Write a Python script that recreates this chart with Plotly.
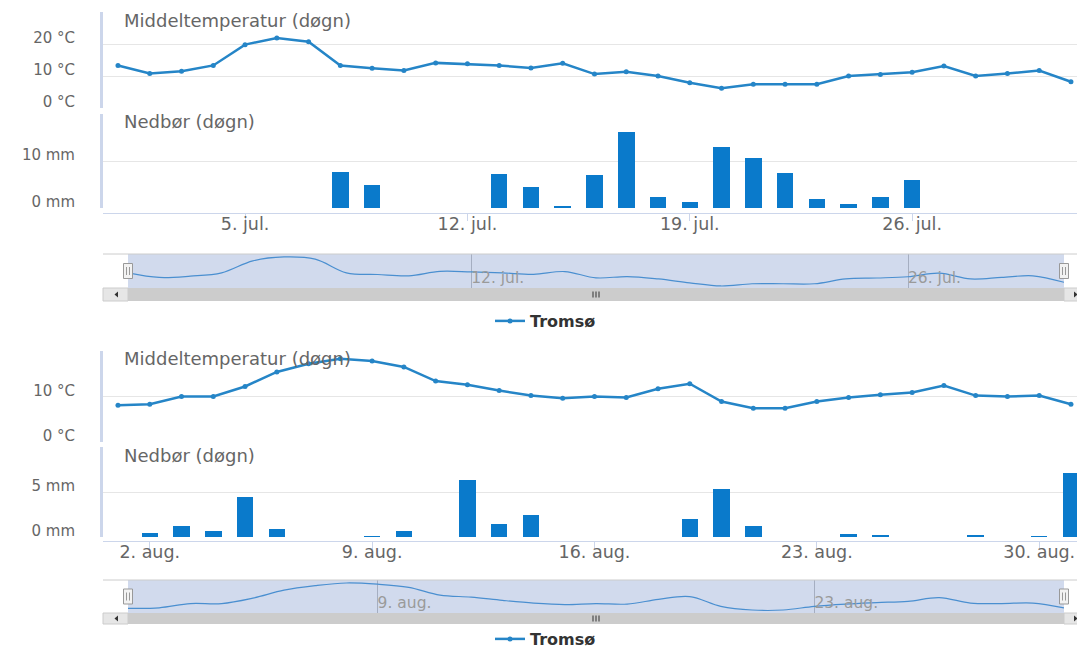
import plotly.graph_objects as go

W, H = 1077, 648
FONT = "DejaVu Sans"

STATION = "Tromsø"
DAYS = list(range(1, 32))

# Daily mean temperature (°C)
JUL_TEMP = [13.3, 10.8, 11.5, 13.3, 19.8, 21.9, 20.7, 13.3, 12.4, 11.7, 14.1,
            13.8, 13.3, 12.5, 14.0, 10.6, 11.3, 10.0, 7.9, 6.2, 7.4, 7.4, 7.4,
            10.0, 10.5, 11.2, 13.1, 10.0, 10.8, 11.7, 8.2]
AUG_TEMP = [8.1, 8.3, 10.0, 10.0, 12.2, 15.4, 17.2, 18.3, 17.8, 16.5, 13.4,
            12.6, 11.3, 10.2, 9.6, 10.0, 9.8, 11.7, 12.8, 8.9, 7.4, 7.4, 8.9,
            9.8, 10.4, 10.9, 12.4, 10.2, 10.0, 10.2, 8.3]

# Daily precipitation (mm), only days with precipitation
JUL_RAIN_DAYS = [8, 9, 13, 14, 15, 16, 17, 18, 19, 20, 21, 22, 23, 24, 25, 26]
JUL_RAIN = [7.7, 4.9, 7.3, 4.4, 0.3, 7.0, 16.2, 2.3, 1.3, 13.0, 10.6, 7.4,
            2.0, 0.85, 2.3, 5.9]
AUG_RAIN_DAYS = [2, 3, 4, 5, 6, 9, 10, 12, 13, 14, 19, 20, 21, 24, 25, 28, 30, 31]
AUG_RAIN = [0.45, 1.25, 0.65, 4.5, 0.9, 0.06, 0.7, 6.35, 1.45, 2.5, 2.0, 5.3,
            1.2, 0.35, 0.15, 0.15, 0.06, 7.1]

# Axis ticks and labels
JUL_TICK_DAYS = [5, 12, 19, 26]
JUL_TICK_TEXT = ["5. jul.", "12. jul.", "19. jul.", "26. jul."]
AUG_TICK_DAYS = [2, 9, 16, 23, 30]
AUG_TICK_TEXT = ["2. aug.", "9. aug.", "16. aug.", "23. aug.", "30. aug."]
JUL_NAV_TICK_DAYS = [12, 26]
JUL_NAV_TICK_TEXT = ["12. jul.", "26. jul."]
AUG_NAV_TICK_DAYS = [9, 23]
AUG_NAV_TICK_TEXT = ["9. aug.", "23. aug."]
JUL_TEMP_TICKS = [0, 10, 20, 30]
JUL_TEMP_TEXT = ["0 °C", "10 °C", "20 °C", ""]
AUG_TEMP_TICKS = [0, 10, 20]
AUG_TEMP_TEXT = ["0 °C", "10 °C", ""]
JUL_RAIN_TICKS = [0, 10, 20]
JUL_RAIN_TEXT = ["0 mm", "10 mm", ""]
AUG_RAIN_TICKS = [0, 5, 10]
AUG_RAIN_TEXT = ["0 mm", "5 mm", ""]

TEMP_TITLE = "Middeltemperatur (døgn)"
RAIN_TITLE = "Nedbør (døgn)"

LINE_COLOR = "#2585c7"
BAR_COLOR = "#0a7acb"
NAV_COLOR = "#4a8fd0"
GRID = "#e6e6e6"
AXIS_LINE = "#ccd6eb"
LABEL = "#666666"

X_RANGE = [0.528, 31.19]
NAV_LEFT, NAV_RIGHT = 128, 1064


def px(x):
    return x / W


def py(y):
    return 1 - y / H


def sfx(n):
    return "" if n == 1 else str(n)


charts = [
    dict(temp=JUL_TEMP, rain_days=JUL_RAIN_DAYS, rain=JUL_RAIN,
         ticks=JUL_TICK_DAYS, tick_text=JUL_TICK_TEXT,
         nav_ticks=JUL_NAV_TICK_DAYS, nav_text=JUL_NAV_TICK_TEXT,
         temp_ticks=JUL_TEMP_TICKS, temp_text=JUL_TEMP_TEXT,
         rain_ticks=JUL_RAIN_TICKS, rain_text=JUL_RAIN_TEXT,
         temp_top=12, temp_bot=108, rain_top=114, rain_bot=208, xline=213,
         nav_top=254, nav_bot=288, sb_top=288, sb_bot=301, legend_y=321,
         temp_title_y=20, rain_title_y=121, nav_range=[5.1, 23.5]),
    dict(temp=AUG_TEMP, rain_days=AUG_RAIN_DAYS, rain=AUG_RAIN,
         ticks=AUG_TICK_DAYS, tick_text=AUG_TICK_TEXT,
         nav_ticks=AUG_NAV_TICK_DAYS, nav_text=AUG_NAV_TICK_TEXT,
         temp_ticks=AUG_TEMP_TICKS, temp_text=AUG_TEMP_TEXT,
         rain_ticks=AUG_RAIN_TICKS, rain_text=AUG_RAIN_TEXT,
         temp_top=351, temp_bot=442, rain_top=447, rain_bot=537, xline=541,
         nav_top=580, nav_bot=613, sb_top=613, sb_bot=624, legend_y=639,
         temp_title_y=358, rain_title_y=455, nav_range=[6.2, 19.5]),
]

fig = go.Figure()
layout = {}
shapes = []
annotations = []

for k, c in enumerate(charts):
    nt, nr, nn = 3 * k + 1, 3 * k + 2, 3 * k + 3
    legend_name = "legend" if k == 0 else "legend2"

    # mean temperature line
    fig.add_trace(go.Scatter(
        x=DAYS, y=c["temp"], mode="lines+markers", name=STATION,
        line=dict(color=LINE_COLOR, width=2.5),
        marker=dict(color=LINE_COLOR, size=5),
        xaxis="x" + sfx(nt), yaxis="y" + sfx(nt),
        legend=legend_name, showlegend=True, cliponaxis=False))

    # precipitation columns
    fig.add_trace(go.Bar(
        x=c["rain_days"], y=c["rain"], width=0.52, name=STATION,
        marker=dict(color=BAR_COLOR, line=dict(width=0)),
        xaxis="x" + sfx(nr), yaxis="y" + sfx(nr), showlegend=False))

    # navigator series
    fig.add_trace(go.Scatter(
        x=DAYS, y=c["temp"], mode="lines", name=STATION,
        line=dict(color=NAV_COLOR, width=1.2, shape="spline", smoothing=1),
        xaxis="x" + sfx(nn), yaxis="y" + sfx(nn), showlegend=False,
        hoverinfo="skip"))

    ytick_common = dict(
        gridcolor=GRID, gridwidth=1, zeroline=False, showline=True,
        linecolor=AXIS_LINE, linewidth=3, ticks="",
        tickfont=dict(family=FONT, size=15, color=LABEL),
        ticklabelshift=-6, ticklabelstandoff=22, fixedrange=True)

    layout["xaxis" + sfx(nt)] = dict(
        domain=[px(103), 1], range=X_RANGE, anchor="y" + sfx(nt),
        showticklabels=False, showgrid=False, zeroline=False, fixedrange=True)
    layout["yaxis" + sfx(nt)] = dict(
        domain=[py(c["temp_bot"]), py(c["temp_top"])],
        range=[0, c["temp_ticks"][-1]], anchor="x" + sfx(nt),
        tickvals=c["temp_ticks"], ticktext=c["temp_text"], **ytick_common)

    layout["xaxis" + sfx(nr)] = dict(
        domain=[px(103), 1], range=X_RANGE, anchor="free",
        position=py(c["xline"]), tickvals=c["ticks"], ticktext=c["tick_text"],
        ticks="outside", ticklen=7, tickcolor=AXIS_LINE, showline=True,
        linecolor=AXIS_LINE, linewidth=1, showgrid=False, zeroline=False,
        tickfont=dict(family=FONT, size=17.5, color=LABEL),
        ticklabelstandoff=-12, fixedrange=True)
    layout["yaxis" + sfx(nr)] = dict(
        domain=[py(c["rain_bot"]), py(c["rain_top"])],
        range=[0, c["rain_ticks"][-1]], anchor="x" + sfx(nr),
        tickvals=c["rain_ticks"], ticktext=c["rain_text"], **ytick_common)

    layout["xaxis" + sfx(nn)] = dict(
        domain=[px(NAV_LEFT), px(NAV_RIGHT)], range=[1, 31],
        anchor="y" + sfx(nn),
        tickvals=c["nav_ticks"], ticktext=c["nav_text"], showgrid=True,
        gridcolor="rgba(110,120,140,0.45)", gridwidth=1, ticks="",
        ticklabelposition="inside right", ticklabelstandoff=-4,
        showline=False, zeroline=False,
        tickfont=dict(family=FONT, size=15.5, color="#9a9a9a"), fixedrange=True)
    layout["yaxis" + sfx(nn)] = dict(
        domain=[py(c["nav_bot"]), py(c["nav_top"])], range=c["nav_range"],
        anchor="x" + sfx(nn), visible=False, fixedrange=True)

    layout[legend_name] = dict(
        x=px(490), xanchor="left", y=py(c["legend_y"]), yanchor="middle",
        orientation="h", bgcolor="rgba(0,0,0,0)", borderwidth=0,
        font=dict(family=FONT, size=16, color="#333333", weight="bold"))

    # panel titles
    for title, ty in ((TEMP_TITLE, c["temp_title_y"]),
                      (RAIN_TITLE, c["rain_title_y"])):
        annotations.append(dict(
            text=title, xref="paper", yref="paper", x=px(122), y=py(ty),
            xanchor="left", yanchor="middle", showarrow=False,
            font=dict(family=FONT, size=18, color=LABEL)))

    # navigator selection mask
    shapes.append(dict(
        type="rect", xref="x%s domain" % sfx(nn), yref="y%s domain" % sfx(nn),
        x0=0, x1=1, y0=0, y1=1, fillcolor="rgba(102,133,194,0.3)",
        line=dict(width=0), layer="below"))
    shapes.append(dict(
        type="line", xref="paper", yref="paper", x0=px(103), x1=1,
        y0=py(c["nav_top"]), y1=py(c["nav_top"]),
        line=dict(color="#cccccc", width=1)))

    # scrollbar: track, thumb, buttons, grip
    sb0, sb1 = py(c["sb_bot"]), py(c["sb_top"])
    shapes.append(dict(type="rect", xref="paper", yref="paper", x0=px(103),
                       x1=1, y0=sb0, y1=sb1, fillcolor="#f2f2f2",
                       line=dict(width=0)))
    shapes.append(dict(type="rect", xref="paper", yref="paper",
                       x0=px(NAV_LEFT), x1=px(NAV_RIGHT), y0=sb0, y1=sb1,
                       fillcolor="#cccccc", line=dict(width=0)))
    for bx0, bx1 in ((103, NAV_LEFT), (NAV_RIGHT, 1090)):
        shapes.append(dict(type="rect", xref="paper", yref="paper",
                           x0=px(bx0), x1=px(bx1), y0=sb0, y1=sb1,
                           fillcolor="#e6e6e6",
                           line=dict(color="#cccccc", width=1)))
    sm = (c["sb_top"] + c["sb_bot"]) / 2
    shapes.append(dict(
        type="path", xref="paper", yref="paper",
        path="M %f %f L %f %f L %f %f Z" % (px(118), py(sm - 3), px(114.5), py(sm),
                                            px(118), py(sm + 3)),
        fillcolor="#333333", line=dict(width=0)))
    shapes.append(dict(
        type="path", xref="paper", yref="paper",
        path="M %f %f L %f %f L %f %f Z" % (px(1074), py(sm - 3), px(1077.5), py(sm),
                                            px(1074), py(sm + 3)),
        fillcolor="#333333", line=dict(width=0)))
    gc = (NAV_LEFT + NAV_RIGHT) / 2
    for gx in (gc - 3, gc, gc + 3):
        shapes.append(dict(type="line", xref="paper", yref="paper",
                           x0=px(gx), x1=px(gx), y0=py(sm - 3), y1=py(sm + 3),
                           line=dict(color="#333333", width=1)))

    # navigator handles at both ends of the selected range
    hm = (c["nav_top"] + c["nav_bot"]) / 2
    for hx in (NAV_LEFT, NAV_RIGHT):
        shapes.append(dict(
            type="rect", xref="paper", yref="paper",
            x0=px(hx - 4.5), x1=px(hx + 4.5), y0=py(hm + 7.5), y1=py(hm - 7.5),
            fillcolor="#f2f2f2", line=dict(color="#999999", width=1)))
        for dx in (-1.5, 1.5):
            shapes.append(dict(
                type="line", xref="paper", yref="paper",
                x0=px(hx + dx), x1=px(hx + dx),
                y0=py(hm + 4), y1=py(hm - 4),
                line=dict(color="#999999", width=1)))

layout.update(
    width=W, height=H, autosize=False,
    margin=dict(l=0, r=0, t=0, b=0, autoexpand=False),
    paper_bgcolor="white", plot_bgcolor="white",
    bargap=0, shapes=shapes, annotations=annotations,
    font=dict(family=FONT, color=LABEL),
    hovermode="closest",
)
fig.update_layout(**layout)

fig.write_html("out.html")
